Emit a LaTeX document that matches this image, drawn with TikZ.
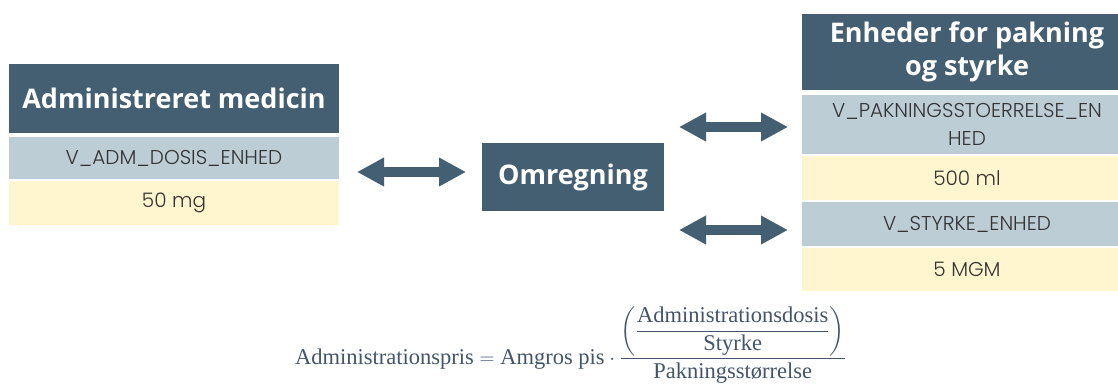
\documentclass[tikz,border=0pt]{standalone}
\usepackage{fontspec}
\usepackage{amsmath}
\setmainfont{Open Sans}
\newfontfamily\bodyf{Poppins Light}
\newfontfamily\fml{Liberation Serif}
\usetikzlibrary{arrows.meta}
\definecolor{hdr}{HTML}{445F71}
\definecolor{rowb}{HTML}{BCCDD6}
\definecolor{rowy}{HTML}{FFF5CE}
\definecolor{txt}{HTML}{333333}
\definecolor{fcol}{HTML}{44546A}
\tikzset{
  hbox/.style={fill=hdr, text=white, inner sep=0pt, align=center,
    font=\fontsize{27bp}{33bp}\selectfont\bfseries},
  bbox/.style={fill=rowb, text=txt, inner sep=0pt, align=center,
    font=\bodyf\fontsize{20bp}{28bp}\selectfont},
  ybox/.style={fill=rowy, text=txt, inner sep=0pt, align=center,
    font=\bodyf\fontsize{20bp}{28bp}\selectfont},
  bigarrow/.style={draw=hdr, line width=10bp,
    {Triangle[length=27bp,width=27bp]}-{Triangle[length=27bp,width=27bp]}}
}
\begin{document}
\begin{tikzpicture}[x=1bp,y=-1bp]
\useasboundingbox (0,0) rectangle (1118,385);
\clip (0,0) rectangle (1118,385);
% left panel
\node[hbox, minimum width=330bp, minimum height=69bp] (admh) at (174,98.5) {Administreret medicin};
\node[bbox, minimum width=330bp, minimum height=42bp] (adm1) at (174,158) {V\_ADM\_DOSIS\_ENHED};
\node[ybox, minimum width=330bp, minimum height=44bp] (adm2) at (174,203) {50 mg};
% centre
\node[hbox, minimum width=182bp, minimum height=68bp] (omr) at (573,177) {Omregning};
% right panel
\node[hbox, minimum width=330bp, minimum height=76bp] (enh) at (967,52) {Enheder for pakning\\og styrke};
\node[bbox, minimum width=330bp, minimum height=59bp] (enh1) at (967,124.5) {V\_PAKNINGSSTOERRELSE\_EN\\HED};
\node[ybox, minimum width=330bp, minimum height=44bp] (enh2) at (967,178) {500 ml};
\node[bbox, minimum width=330bp, minimum height=44bp] (enh3) at (967,224) {V\_STYRKE\_ENHED};
\node[ybox, minimum width=330bp, minimum height=43bp] (enh4) at (967,269.5) {5 MGM};
% arrows
\coordinate (a1l) at (357,172);
\coordinate (a1r) at (466,172);
\coordinate (a2l) at (679,127);
\coordinate (a2r) at (788,127);
\coordinate (a3l) at (679,230);
\coordinate (a3r) at (788,230);
\draw[bigarrow] (a1l) -- (a1r);
\draw[bigarrow] (a2l) -- (a2r);
\draw[bigarrow] (a3l) -- (a3r);
% formula
\node[anchor=base west, inner sep=0pt, text=fcol, font=\fontsize{22.5bp}{27bp}\selectfont] (form) at (295,364)
{$\displaystyle \mbox{\fml Administrationspris} = \mbox{\fml Amgros pis}\cdot
\frac{\left(\dfrac{\mbox{\fml Administrationsdosis}}{\mbox{\fml Styrke}}\right)}{\mbox{\fml Pakningsstørrelse}}$};
\end{tikzpicture}
\end{document}
